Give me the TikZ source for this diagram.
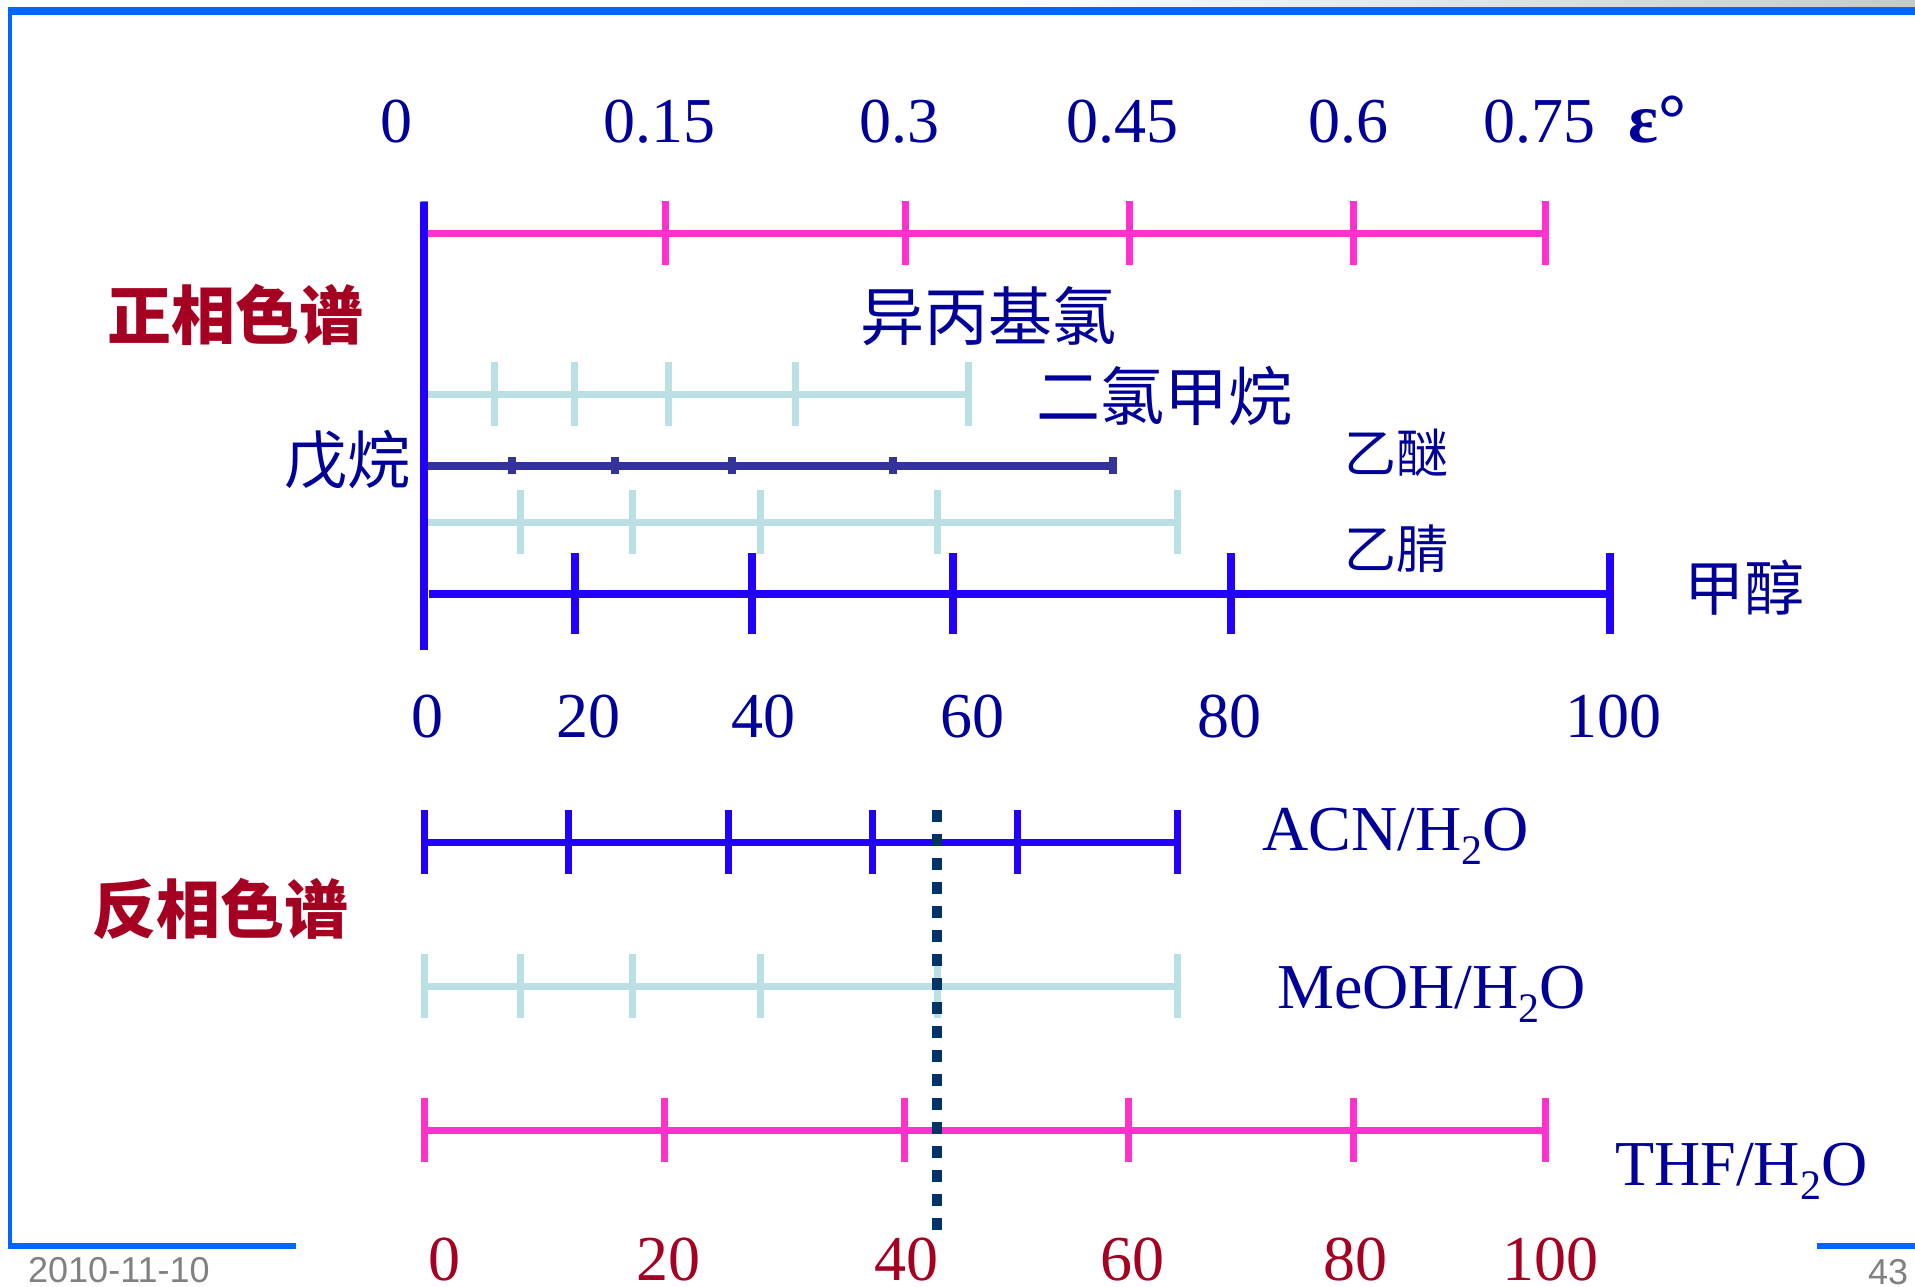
\documentclass[tikz,border=0pt]{standalone}
\usepackage{fontspec}
\setmainfont{Liberation Serif}
\newfontfamily\cjk{Noto Sans CJK SC}
\newfontfamily\sansf{Liberation Sans}
\definecolor{navy}{HTML}{000099}
\definecolor{dred}{HTML}{A50021}
\definecolor{pinkc}{HTML}{FF33CC}
\definecolor{cyanc}{HTML}{BBE0E3}
\definecolor{bluec}{HTML}{2200FF}
\definecolor{navyl}{HTML}{333399}
\definecolor{dotc}{HTML}{003366}
\definecolor{framec}{HTML}{0066FF}
\definecolor{stripc}{HTML}{C4CCC0}
\newcommand\subtwo{\raisebox{-14pt}{\fontsize{42}{42}\selectfont 2}}
\begin{document}
\begin{tikzpicture}[x=1pt,y=-1pt,
  num/.style={text=navy,inner sep=0pt,anchor=base,font=\fontsize{64}{70}\selectfont},
  rnum/.style={num,text=dred},
  cjkl/.style={text=navy,inner sep=0pt,font=\cjk\fontsize{#1}{70}\selectfont},
  cjkl/.default=64,
  head/.style={text=dred,inner sep=0pt,font=\cjk\bfseries\fontsize{64}{70}\selectfont},
  foot/.style={text=gray,inner sep=0pt,anchor=base west,font=\sansf\fontsize{36}{40}\selectfont},
  pinkr/.style={draw=pinkc,line width=7pt},
  cyanr/.style={draw=cyanc,line width=7pt},
  bluer/.style={draw=bluec,line width=7pt},
  navyr/.style={draw=navyl,line width=8pt},
  dotl/.style={draw=dotc,line width=10pt,dash pattern=on 12pt off 12pt}]
\useasboundingbox (0,0) rectangle (1915,1286);
% frame
\shade[left color=white,right color=stripc] (980,0) rectangle (1915,7);
\fill[framec] (8,7) rectangle (1915,15);
\fill[framec] (8,7) rectangle (12,1249);
\fill[framec] (8,1243) rectangle (296,1249);
\fill[framec] (1817,1243) rectangle (1915,1249);
\node[foot] (date) at (28,1282) {2010-11-10};
\node[foot] (page) at (1868,1284) {43};

% top epsilon labels
\node[num] (e0) at (396,142) {0};
\node[num] (e1) at (659,142) {0.15};
\node[num] (e2) at (899,142) {0.3};
\node[num] (e3) at (1122,142) {0.45};
\node[num] (e4) at (1348,142) {0.6};
\node[num] (e5) at (1539,142) {0.75};
\node[num,anchor=base west,font=\fontsize{70}{76}\selectfont] (eps) at (1628,142) {\bfseries ε°};

% normal phase scales
\draw[pinkr] (424,233) -- (1545,233);
\foreach \x in {424,665,905,1129,1353,1545} \draw[pinkr] (\x,201) -- (\x,265);

\draw[cyanr] (424,394) -- (968,394);
\foreach \x in {494,574,668,795,968} \draw[cyanr] (\x,362) -- (\x,426);

\draw[navyr] (424,466) -- (1113,466);
\foreach \x in {512,615,732,893,1113} \draw[navyr] (\x,457) -- (\x,474);

\draw[cyanr] (424,522) -- (1177,522);
\foreach \x in {520,632,760,937,1177} \draw[cyanr] (\x,490) -- (\x,554);

\draw[bluer,line width=8pt] (429,594) -- (1610,594);
\foreach \x in {575,752,953,1231,1610} \draw[bluer,line width=8pt] (\x,553) -- (\x,634);

\draw[draw=bluec,line width=8pt] (424,202) -- (424,650);

% normal phase labels
\node[head] (np) at (235,315) {正相色谱};
\node[cjkl] (ipc) at (988,316) {异丙基氯};
\node[cjkl] (dcm) at (1164,396) {二氯甲烷};
\node[cjkl=63] (pent) at (347,460) {戊烷};
\node[cjkl=52] (ether) at (1396,453) {乙醚};
\node[cjkl=52] (acn) at (1396,549) {乙腈};
\node[cjkl=60] (meoh) at (1744,588) {甲醇};

% percent labels (blue)
\node[num] (p0) at (427,737) {0};
\node[num] (p20) at (588,737) {20};
\node[num] (p40) at (763,737) {40};
\node[num] (p60) at (972,737) {60};
\node[num] (p80) at (1229,737) {80};
\node[num] (p100) at (1613,737) {100};

% reversed phase
\node[head] (rp) at (220,909) {反相色谱};

\draw[bluer] (424,842) -- (1177,842);
\foreach \x in {424,568,728,872,1017,1177} \draw[bluer] (\x,810) -- (\x,874);

\draw[cyanr] (424,986) -- (1177,986);
\foreach \x in {424,520,632,760,937,1177} \draw[cyanr] (\x,954) -- (\x,1018);

\draw[pinkr] (424,1130) -- (1545,1130);
\foreach \x in {424,664,904,1128,1353,1545} \draw[pinkr] (\x,1098) -- (\x,1162);

\coordinate (dtop) at (937,810);
\coordinate (dbot) at (937,1232);
\draw[dotl] (dtop) -- (dbot);

\node[num,anchor=base west] (lacn) at (1262,850) {ACN/H\subtwo O};
\node[num,anchor=base west] (lmeoh) at (1277,1008) {MeOH/H\subtwo O};
\node[num,anchor=base west] (lthf) at (1615,1185) {THF/H\subtwo O};

% percent labels (red)
\node[rnum] (q0) at (444,1280) {0};
\node[rnum] (q20) at (668,1280) {20};
\node[rnum] (q40) at (906,1280) {40};
\node[rnum] (q60) at (1132,1280) {60};
\node[rnum] (q80) at (1355,1280) {80};
\node[rnum] (q100) at (1550,1280) {100};
\end{tikzpicture}
\end{document}
